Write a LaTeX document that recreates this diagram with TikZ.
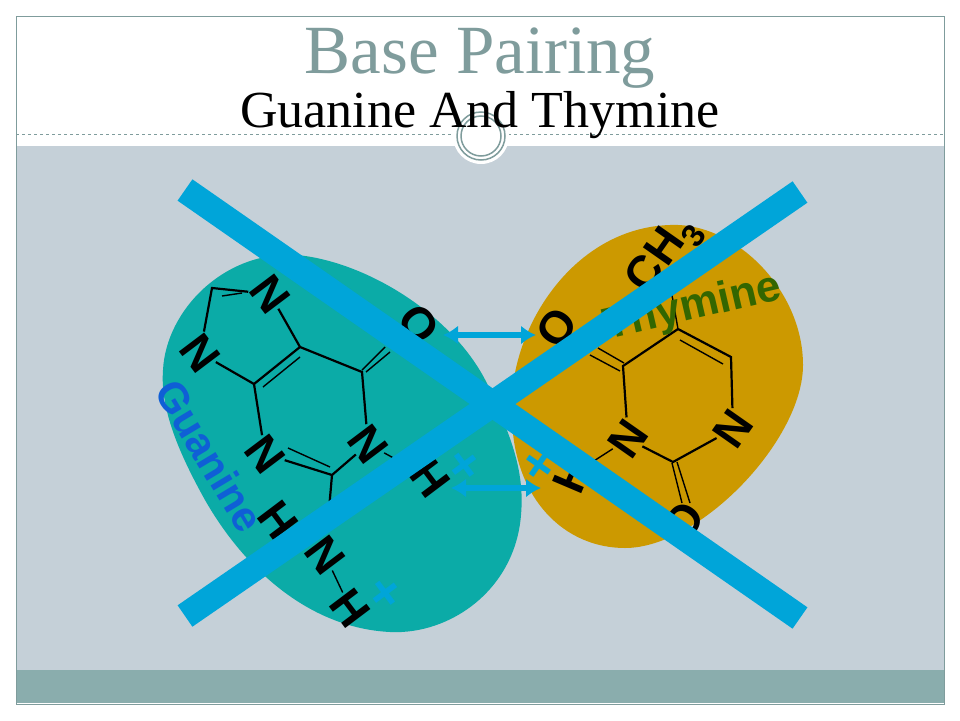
\documentclass[tikz,border=0pt]{standalone}
\usepackage{fontspec}
\setmainfont{Liberation Serif}
\setsansfont{Liberation Sans}
\usetikzlibrary{arrows.meta}
\definecolor{panelgray}{HTML}{C5D0D8}
\definecolor{bandteal}{HTML}{8AADAD}
\definecolor{titlegray}{HTML}{7F9C9C}
\definecolor{blobteal}{HTML}{0BABA7}
\definecolor{blobgold}{HTML}{CC9900}
\definecolor{crossblue}{HTML}{00A5D9}
\definecolor{guanineblue}{HTML}{0F5FD6}
\definecolor{thyminegreen}{HTML}{336600}
\tikzset{
	atomg/.style={font=\sffamily\bfseries\fontsize{46}{46}\selectfont, inner sep=0pt, rotate=-53},
	atomt/.style={font=\sffamily\bfseries\fontsize{46}{46}\selectfont, inner sep=0pt, rotate=55},
	bond/.style={black, line width=2.2pt},
	thinbond/.style={black, line width=1.4pt},
	pairarrow/.style={crossblue, line width=6pt, {Latex[length=15pt,width=19pt]}-{Latex[length=15pt,width=19pt]}},
	crossbar/.style={crossblue, line width=26pt},
	plusmark/.style={crossblue, font=\sffamily\bfseries\fontsize{52}{52}\selectfont, inner sep=0pt}
}
\begin{document}
\begin{tikzpicture}[x=1pt,y=-1pt]
	\useasboundingbox (0,0) rectangle (960,720);
	\fill[white] (0,0) rectangle (960,720);

	% Draw the panel and the band below it
	\fill[panelgray] (16,146) rectangle (944,670);
	\fill[bandteal] (16,670) rectangle (944,703);
	\draw[titlegray, line width=0.8pt] (16,16) rectangle (944,704);
	\draw[titlegray, line width=0.6pt, dashed] (16,134.5) -- (944,134.5);

	% Draw the ring under the title
	\fill[white] (481,136) circle (28);
	\draw[titlegray, line width=1.5pt] (481,136) circle (24);
	\draw[titlegray, line width=1.5pt] (481,136) circle (20);

	% Title lines
	\node[titlegray, font=\fontsize{69}{69}\selectfont, inner sep=0pt] (title) at (480,58) {Base Pairing};
	\node[black, font=\fontsize{52}{52}\selectfont, inner sep=0pt] (subtitle) at (480,115) {Guanine And Thymine};

	% Draw the two blobs
	\fill[blobgold] (670,225) .. controls (735,222) and (803,290) .. (803,365)
		.. controls (803,440) and (700,548) .. (625,548)
		.. controls (565,548) and (515,500) .. (512,420)
		.. controls (505,335) and (570,228) .. (670,225) -- cycle;
	\fill[blobteal] (297,255) .. controls (370,262) and (460,320) .. (490,390)
		.. controls (510,435) and (525,470) .. (521,515)
		.. controls (515,590) and (450,635) .. (390,632)
		.. controls (310,628) and (245,570) .. (205,500)
		.. controls (180,455) and (160,410) .. (163,370)
		.. controls (166,310) and (225,250) .. (297,255) -- cycle;

	% Ring corners of guanine
	\coordinate (gc8) at (212,288);
	\coordinate (gc4) at (254,384);
	\coordinate (gc5) at (300,347);
	\coordinate (gc6) at (362,372);
	\coordinate (gc2) at (332,475);

	% Atoms of guanine
	\node[atomg] (gn7) at (270,294) {N};
	\node[atomg] (gn9) at (200,353) {N};
	\node[atomg] (gn3) at (265,454) {N};
	\node[atomg] (gn1) at (368,444) {N};
	\node[atomg] (gn2) at (325,555) {N};
	\node[atomg] (go6) at (419,324) {O};
	\node[atomg] (gh1) at (430,478) {H};
	\node[atomg] (gh2) at (350,608) {H};
	\node[atomg] (gh3) at (278,520) {H};

	% Bonds of guanine
	\draw[bond] (gn7) -- (gc8) -- (gn9) -- (gc4) -- (gc5) -- (gn7);
	\draw[bond] (gc5) -- (gc6) -- (gn1) -- (gc2) -- (gn3) -- (gc4);
	\draw[bond] (gc2) -- (gn2);
	\draw[thinbond] (gn2) -- (gh2);
	\draw[thinbond] (gn1) -- (gh1);
	\draw[thinbond] (222,296) -- (242,293);
	\draw[thinbond] (263,387) -- (300,357);
	\draw[thinbond] (288,448) -- (330,467);
	\draw[thinbond] (362,370) -- (385,347);
	\draw[thinbond] (366,372) -- (390,352);

	% Ring corners of thymine
	\coordinate (tc5) at (678,329);
	\coordinate (tc6) at (731,357);
	\coordinate (tc2) at (673,462);
	\coordinate (tc4) at (623,366);

	% Atoms of thymine
	\node[atomt] (tn1) at (733,429) {N};
	\node[atomt] (tn3) at (628,439) {N};
	\node[atomt] (to4) at (557,328) {O};
	\node[atomt] (to2) at (684,522) {O};
	\node[atomt, rotate=12] (th3) at (572,475) {H};
	\node[atomt] (tch3) at (665,256) {CH\textsubscript{3}};

	% Bonds of thymine
	\draw[bond] (tc5) -- (tc6) -- (tn1) -- (tc2) -- (tn3) -- (tc4) -- (tc5);
	\draw[thinbond] (tc5) -- (tch3);
	\draw[thinbond] (tn3) -- (th3);
	\draw[thinbond] (680,340) -- (723,364);
	\draw[thinbond] (590,355) -- (620,371);
	\draw[thinbond] (598,348) -- (624,363);
	\draw[thinbond] (672,463) -- (682,503);
	\draw[thinbond] (677,462) -- (690,503);

	% Names of the bases
	\node[guanineblue, font=\sffamily\bfseries\fontsize{42}{42}\selectfont, rotate=-59, inner sep=0pt] (guanine) at (210,456) {Guanine};
	\node[thyminegreen, font=\sffamily\bfseries\fontsize{44}{44}\selectfont, rotate=13, inner sep=0pt] (thymine) at (693,308) {Thymine};

	% Blue marks
	\node[plusmark, rotate=-53] (plusa) at (384,594) {+};
	\node[plusmark, rotate=-53] (plusb) at (463,466) {+};
	\node[plusmark, rotate=55] (plusc) at (541,466) {+};

	% Arrows between the bases
	\coordinate (arrowal) at (443,335);
	\coordinate (arrowar) at (536,335);
	\coordinate (arrowbl) at (451,488);
	\coordinate (arrowbr) at (541,488);
	\draw[pairarrow] (arrowal) -- (arrowar);
	\draw[pairarrow] (arrowbl) -- (arrowbr);

	% Draw the cross on top
	\coordinate (crossa) at (185,190);
	\coordinate (crossb) at (800,618);
	\coordinate (crossc) at (185,616);
	\coordinate (crossd) at (800,192);
	\draw[crossbar] (crossa) -- (crossb);
	\draw[crossbar] (crossc) -- (crossd);
\end{tikzpicture}
\end{document}
